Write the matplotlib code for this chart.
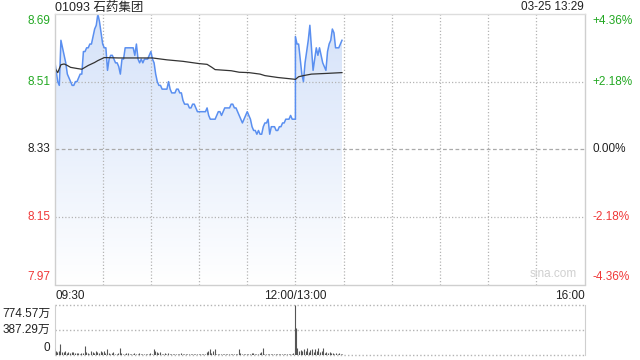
import numpy as np
import matplotlib
matplotlib.use('Agg')
import matplotlib.pyplot as plt
from matplotlib.colors import LinearSegmentedColormap

plt.rcParams['font.family'] = ['Liberation Sans', 'Noto Sans CJK SC', 'DejaVu Sans']

title = '01093 石药集团'
stamp = '03-25 13:29'
prev_close = 8.33
price_ticks = [8.69, 8.51, 8.33, 8.15, 7.97]
price_labels = ['8.69', '8.51', '8.33', '8.15', '7.97']
pct_labels = ['+4.36%', '+2.18%', '0.00%', '-2.18%', '-4.36%']
time_labels = ['09:30', '12:00/13:00', '16:00']
vol_ticks = [774.57, 387.29, 0]
vol_tick_labels = ['774.57万', '387.29万', '0']

# minute prices 09:30 .. 12:00
price_am = [8.57, 8.54, 8.51, 8.50, 8.62, 8.60, 8.58, 8.56, 8.53, 8.52,
            8.51, 8.50, 8.50, 8.51, 8.51, 8.52, 8.53, 8.53, 8.59, 8.59,
            8.60, 8.60, 8.61, 8.61, 8.63, 8.65, 8.66, 8.69, 8.67, 8.64,
            8.61, 8.60, 8.60, 8.54, 8.57, 8.58, 8.58, 8.57, 8.56, 8.56,
            8.55, 8.53, 8.57, 8.57, 8.60, 8.60, 8.60, 8.60, 8.60, 8.60,
            8.58, 8.61, 8.57, 8.56, 8.57, 8.56, 8.57, 8.57, 8.57, 8.58,
            8.59, 8.57, 8.56, 8.53, 8.51, 8.50, 8.50, 8.49, 8.49, 8.49,
            8.49, 8.51, 8.49, 8.48, 8.48, 8.48, 8.49, 8.49, 8.48, 8.48,
            8.46, 8.45, 8.45, 8.45, 8.44, 8.44, 8.45, 8.45, 8.44, 8.43,
            8.43, 8.43, 8.43, 8.43, 8.43, 8.44, 8.42, 8.41, 8.41, 8.41,
            8.41, 8.42, 8.43, 8.43, 8.42, 8.43, 8.44, 8.44, 8.44, 8.44,
            8.45, 8.45, 8.44, 8.44, 8.43, 8.42, 8.41, 8.40, 8.41, 8.42,
            8.43, 8.42, 8.41, 8.39, 8.38, 8.38, 8.37, 8.38, 8.37, 8.37,
            8.39, 8.40, 8.40, 8.41, 8.37, 8.39, 8.39, 8.39, 8.38, 8.38,
            8.39, 8.39, 8.40, 8.40, 8.41, 8.41, 8.41, 8.42, 8.41, 8.41,
            8.41]
# minute prices 13:00 .. 13:29
price_pm = [8.63, 8.61, 8.61, 8.57, 8.53, 8.51, 8.56, 8.59, 8.62, 8.66,
            8.60, 8.54, 8.57, 8.60, 8.58, 8.60, 8.58, 8.56, 8.55, 8.54,
            8.59, 8.61, 8.62, 8.65, 8.64, 8.60, 8.60, 8.60, 8.61, 8.62]

# average price line (minute index from 09:30, afternoon continues at 150)
avg_minutes = [0, 2, 4, 6, 8, 10, 14, 17, 19, 21, 23, 25, 27, 29, 31, 40,
               50, 61, 70, 80, 90, 95, 98, 100, 110, 115, 121, 128, 131,
               139, 148, 150, 152, 155, 160, 170, 179]
avg_values = [8.548, 8.534, 8.555, 8.557, 8.553, 8.548, 8.545, 8.543, 8.548,
              8.553, 8.557, 8.561, 8.566, 8.570, 8.574, 8.573, 8.573, 8.573,
              8.568, 8.564, 8.558, 8.556, 8.548, 8.542, 8.539, 8.535, 8.534,
              8.530, 8.526, 8.521, 8.517, 8.516, 8.523, 8.526, 8.530, 8.532,
              8.534]

# volume (万) per minute
vol_am = [100, 55, 40, 60, 165, 50, 45, 60, 35, 50, 30, 45, 40, 25, 35, 30,
          20, 30, 25, 135, 40, 30, 20, 55, 40, 30, 60, 45, 25, 55, 40, 60,
          30, 85, 30, 20, 25, 40, 20, 15, 25, 115, 30, 20, 15, 25, 30, 15,
          20, 10, 25, 15, 20, 30, 15, 20, 10, 15, 20, 15, 25, 15, 90, 60,
          40, 30, 45, 20, 15, 25, 20, 30, 15, 20, 10, 15, 20, 10, 15, 25,
          10, 15, 20, 10, 15, 10, 20, 15, 10, 15, 20, 10, 15, 10, 20, 45,
          60, 90, 30, 55, 85, 20, 15, 10, 20, 15, 10, 15, 20, 10, 15, 20,
          10, 15, 10, 90, 25, 15, 10, 20, 15, 10, 15, 25, 35, 15, 20, 10,
          25, 40, 105, 20, 15, 10, 20, 15, 10, 15, 20, 10, 15, 10, 20, 15,
          10, 15, 20, 10, 15, 30, 774.57]
vol_pm = [408, 100, 60, 80, 55, 90, 60, 115, 50, 70, 95, 45, 85, 60, 100,
          40, 55, 100, 35, 45, 30, 40, 25, 30, 20, 35, 15, 25, 15, 20]

TOTAL = 330
AM_LEN = 150

x_am = np.arange(len(price_am))
x_pm = AM_LEN + np.arange(len(price_pm))
xs = np.concatenate([x_am, x_pm])
ps = np.array(price_am + price_pm)
vx = np.concatenate([np.arange(len(vol_am)) - 0.3, AM_LEN + np.arange(len(vol_pm)) + 0.3])
vs = np.array(vol_am + vol_pm)

W, H = 640, 360
fig = plt.figure(figsize=(6.4, 3.6), dpi=100)
fig.patch.set_facecolor('white')

def rect(l, t, r, b):
    return [l / W, 1 - b / H, (r - l) / W, (b - t) / H]

green = '#22a822'
red = '#f03838'
dark = '#222222'
grid_c = '#b4b4b4'
dot = (0, (1, 1.6))
ymin, ymax = price_ticks[-1], price_ticks[0]

ax = fig.add_axes(rect(54.5, 14, 584.5, 284.5))
ax.set_xlim(0, TOTAL)
ax.set_ylim(ymin, ymax)
ax.set_xticks([]); ax.set_yticks([])
for s in ax.spines.values():
    s.set_color('#cfcfcf'); s.set_linewidth(1)
    s.set_zorder(7)
ax.spines['top'].set_color('#dddddd')

# gradient fill below price
fill = ax.fill_between(xs, ps, ymin, color='none', lw=0)
cmap = LinearSegmentedColormap.from_list('g', ['#ffffff', '#e9f0fc', '#d5e2f9'])
grad = np.linspace(0, 1, 256).reshape(-1, 1)
im = ax.imshow(grad, extent=[0, TOTAL, ymin, max(ps)], origin='lower',
               aspect='auto', cmap=cmap, zorder=1, interpolation='bilinear')
im.set_clip_path(fill.get_paths()[0], transform=ax.transData)
ax.set_xlim(0, TOTAL); ax.set_ylim(ymin, ymax)

# grid (drawn over the fill)
for gx in range(30, TOTAL, 30):
    ax.axvline(gx, color=grid_c, lw=0.9, ls=dot, zorder=3)
for gy in price_ticks[1:-1]:
    if abs(gy - prev_close) < 1e-9:
        ax.axhline(gy, color='#aaaaaa', lw=0.9, ls=(0, (3, 2)), zorder=3)
    else:
        ax.axhline(gy, color=grid_c, lw=0.9, ls=dot, zorder=3)

ax.plot(xs, ps, color='#5a8ff0', lw=1.1, zorder=4)
ax.plot(avg_minutes, avg_values, color='#333333', lw=0.9, zorder=5)

ax.text(0.985, 0.015, 'sina.com', transform=ax.transAxes, ha='right', va='bottom',
        color='#d0d0d0', fontsize=8.5, zorder=6)

# y labels
lab_colors = [green, green, dark, red, red]
for i, (v, lab, pl, c) in enumerate(zip(price_ticks, price_labels, pct_labels, lab_colors)):
    if i == 0:
        va, off = 'top', -1
    elif i == len(price_ticks) - 1:
        va, off = 'bottom', 1
    else:
        va, off = 'center', 0
    ax.annotate(lab, (0, v), xycoords=('axes fraction', 'data'), xytext=(-3, off),
                textcoords='offset points', ha='right', va=va, color=c, fontsize=8.5)
    ax.annotate(pl, (1, v), xycoords=('axes fraction', 'data'), xytext=(6, off),
                textcoords='offset points', ha='left', va=va, color=c, fontsize=8.5)

# time labels
ax.annotate(time_labels[0], (0, 0), xycoords='axes fraction', xytext=(1, -4),
            textcoords='offset points', ha='left', va='top', color=dark, fontsize=8.5)
ax.annotate(time_labels[1], (AM_LEN, 0), xycoords=('data', 'axes fraction'), xytext=(0, -4),
            textcoords='offset points', ha='center', va='top', color=dark, fontsize=8.5)
ax.annotate(time_labels[2], (1, 0), xycoords='axes fraction', xytext=(0, -4),
            textcoords='offset points', ha='right', va='top', color=dark, fontsize=8.5)

fig.text(55 / W, 1 - 7.5 / H, title, ha='left', va='center', color=dark, fontsize=9)
fig.text(584 / W, 1 - 7.5 / H, stamp, ha='right', va='center', color=dark, fontsize=8.5)

# volume panel
vax = fig.add_axes(rect(54.5, 304.5, 584.5, 355))
vax.set_xlim(0, TOTAL)
vax.set_ylim(0, vol_ticks[0])
vax.set_xticks([]); vax.set_yticks([])
for k in ['top', 'bottom']:
    vax.spines[k].set_visible(False)
for k in ['left', 'right']:
    vax.spines[k].set_color('#cfcfcf')
vax.axhline(vol_ticks[0], color=grid_c, lw=1.0, ls=dot, clip_on=False)
vax.axhline(vol_ticks[1], color=grid_c, lw=1.0, ls=dot)
vax.axhline(0, color=grid_c, lw=1.0, ls=dot, clip_on=False)
vax.vlines(vx, 0, vs, color='#555555', lw=0.8, zorder=3)
label_y = [(-2.5, 'top'), (0, 'center'), (5, 'center')]
for v, lab, (o, va) in zip(vol_ticks, vol_tick_labels, label_y):
    vax.annotate(lab, (0, v), xycoords=('axes fraction', 'data'), xytext=(-3, o),
                 textcoords='offset points', ha='right', va=va, color=dark, fontsize=8.5)

fig.savefig('out.png', dpi=100, facecolor='white')
